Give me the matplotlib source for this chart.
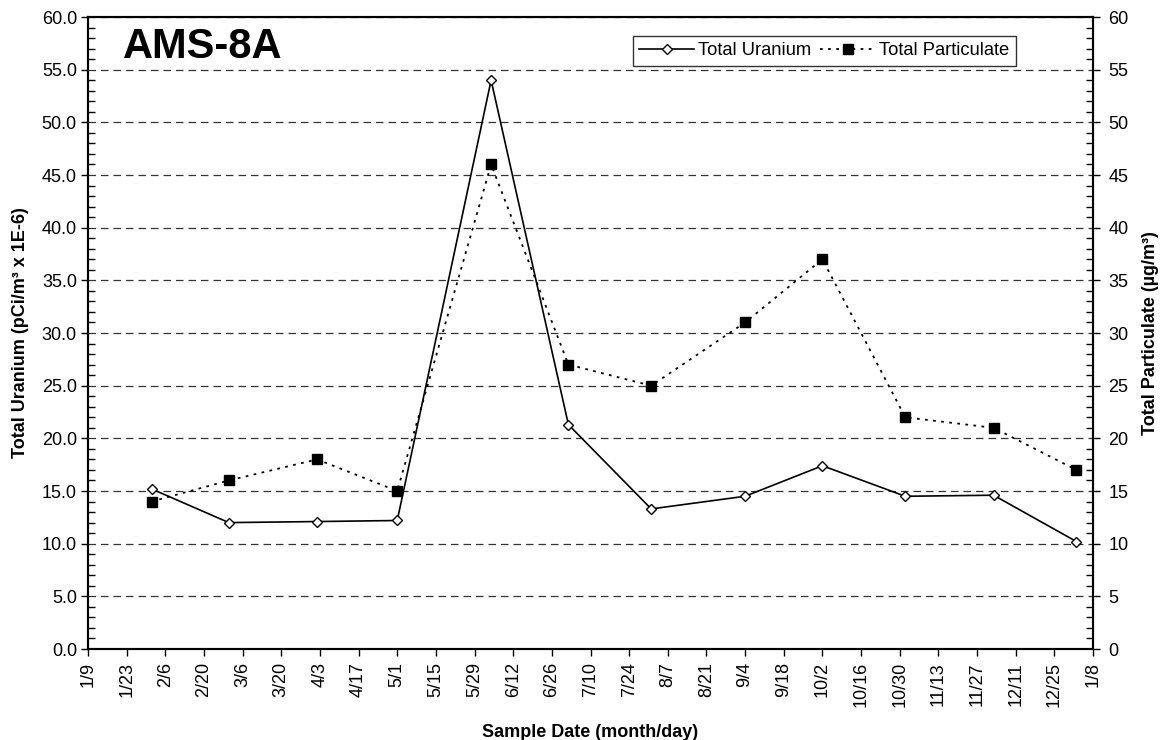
import datetime as dt
import matplotlib
matplotlib.use("Agg")
import matplotlib.pyplot as plt
import matplotlib.dates as mdates
from matplotlib.ticker import MultipleLocator, FuncFormatter

plt.rcParams['font.family'] = ['Liberation Sans', 'DejaVu Sans']

# sample dates (month, day, year)
sample_dates = [(2, 1, 2003), (3, 1, 2003), (4, 2, 2003), (5, 1, 2003), (6, 4, 2003),
                (7, 2, 2003), (8, 1, 2003), (9, 4, 2003), (10, 2, 2003), (11, 1, 2003),
                (12, 3, 2003), (1, 2, 2004)]
uranium = [15.2, 12.0, 12.1, 12.2, 54.0, 21.3, 13.3, 14.5, 17.4, 14.5, 14.6, 10.2]
particulate = [14, 16, 18, 15, 46, 27, 25, 31, 37, 22, 21, 17]

dates = [dt.date(y, m, d) for m, d, y in sample_dates]
x_start = dt.date(2003, 1, 9)
x_end = dt.date(2004, 1, 8)
tick_dates = [x_start + dt.timedelta(days=14 * i) for i in range(27)]

fig = plt.figure(figsize=(11.64, 7.40), dpi=100)
ax = fig.add_axes([88 / 1164, 1 - 649 / 740, (1093 - 88) / 1164, (649 - 17) / 740])
ax2 = ax.twinx()

# grid
ax.set_axisbelow(True)
ax.yaxis.grid(True, which='major', color='#333333', linestyle=(0, (6, 4)), linewidth=0.9)

l1, = ax.plot(dates, uranium, color='black', linewidth=1.2, marker='D', markersize=5,
              markerfacecolor='white', markeredgecolor='black', markeredgewidth=1.0,
              label='Total Uranium', zorder=3)
l2, = ax2.plot(dates, particulate, color='black', linewidth=1.3, linestyle=(0, (1.5, 3)),
               marker='s', markersize=7, markerfacecolor='black', markeredgecolor='black',
               label='Total Particulate', zorder=3)

ax.set_xlim(x_start, x_end)
ax.set_ylim(0, 60)
ax2.set_ylim(0, 60)

ax.set_xticks(tick_dates)
ax.xaxis.set_major_formatter(FuncFormatter(lambda v, p: f"{mdates.num2date(v).month}/{mdates.num2date(v).day}"))
ax.tick_params(axis='x', rotation=90, labelsize=13, direction='out', length=5, width=1, pad=4.5)

ax.yaxis.set_major_locator(MultipleLocator(5))
ax.yaxis.set_minor_locator(MultipleLocator(1))
ax.yaxis.set_major_formatter(FuncFormatter(lambda v, p: f"{v:.1f}"))
ax.tick_params(axis='y', which='major', labelsize=13, direction='out', length=5, width=1, pad=3)
ax.tick_params(axis='y', which='minor', direction='in', length=5, width=1)

ax2.yaxis.set_major_locator(MultipleLocator(5))
ax2.yaxis.set_minor_locator(MultipleLocator(1))
ax2.tick_params(axis='y', which='major', labelsize=13, direction='out', length=5, width=1, pad=6)
ax2.tick_params(axis='y', which='minor', direction='in', length=5, width=1)

for a in (ax, ax2):
    for s in a.spines.values():
        s.set_linewidth(1.5)
        s.set_color('black')

ax.set_xlabel('Sample Date (month/day)', fontsize=13, fontweight='bold', labelpad=12)
ax.set_ylabel('Total Uranium (pCi/m³ x 1E-6)', fontsize=13, fontweight='bold', labelpad=9)
ax2.set_ylabel('Total Particulate (µg/m³)', fontsize=13, fontweight='bold', labelpad=10)

ax.text(0.035, 0.935, 'AMS-8A', transform=ax.transAxes, fontsize=30, fontweight='bold',
        va='baseline', ha='left')

leg = ax2.legend(handles=[l1, l2], loc='upper left', bbox_to_anchor=((633 - 88) / 1005, 1 - (36 - 17) / 632),
                 ncol=2, fontsize=13.2, frameon=True, fancybox=False, edgecolor='black',
                 handlelength=3.0, handletextpad=0.2, columnspacing=0.5, borderpad=0.35,
                 borderaxespad=0)
leg.get_frame().set_linewidth(1.0)

fig.savefig('out.png', dpi=100)
